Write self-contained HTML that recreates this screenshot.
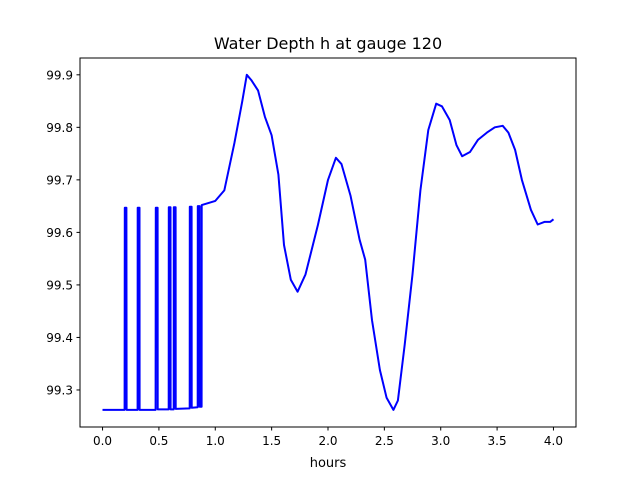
<!DOCTYPE html>
<html><head><meta charset="utf-8"><style>
body{margin:0;background:#fff}
svg text{font-family:"DejaVu Sans","Liberation Sans",sans-serif;fill:#000}
</style></head><body>
<svg id="chart" width="640" height="480" viewBox="0 0 640 480">
<rect width="640" height="480" fill="#fff"/>
<text x="328" y="49" font-size="16" text-anchor="middle">Water Depth h at gauge 120</text>
<g id="xticks"></g>
<g id="yticks"></g>
<polyline id="series" fill="none" stroke="#0000ff" stroke-width="2" stroke-linejoin="round"/>
<rect x="80" y="58" width="496" height="369" fill="none" stroke="#000" stroke-width="1"/>
<text x="328" y="467" font-size="13" text-anchor="middle">hours</text>
</svg>
<script>
const xTicks=[0,0.5,1,1.5,2,2.5,3,3.5,4];
const xTickLabels=["0.0","0.5","1.0","1.5","2.0","2.5","3.0","3.5","4.0"];
const yTicks=[99.3,99.4,99.5,99.6,99.7,99.8,99.9];
const yTickLabels=["99.3","99.4","99.5","99.6","99.7","99.8","99.9"];
const hours=[0,0.196,0.197,0.212,0.213,0.311,0.312,0.328,0.329,0.471,0.472,0.488,0.489,0.587,0.588,0.603,0.604,0.631,0.632,0.648,0.649,0.773,0.774,0.790,0.791,0.844,0.845,0.861,0.862,0.879,0.88,
1.0,1.08,1.17,1.24,1.28,1.32,1.38,1.44,1.5,1.56,1.61,1.67,1.73,1.8,1.91,2.0,2.07,2.12,2.2,2.28,2.33,2.39,2.46,2.52,2.58,2.62,2.68,2.75,2.82,2.89,2.96,3.01,3.08,3.14,3.19,3.26,3.33,3.41,3.48,3.55,3.6,3.66,3.72,3.8,3.86,3.92,3.97,4.0];
const depth=[99.262,99.262,99.647,99.647,99.262,99.262,99.647,99.647,99.262,99.262,99.647,99.647,99.263,99.263,99.648,99.648,99.263,99.263,99.648,99.648,99.264,99.265,99.649,99.649,99.266,99.267,99.650,99.650,99.268,99.268,99.652,
99.66,99.68,99.77,99.85,99.9,99.89,99.87,99.82,99.785,99.71,99.576,99.51,99.487,99.52,99.614,99.7,99.742,99.73,99.67,99.586,99.548,99.433,99.338,99.285,99.262,99.28,99.386,99.52,99.68,99.795,99.845,99.84,99.814,99.766,99.745,99.753,99.776,99.79,99.8,99.803,99.79,99.757,99.7,99.643,99.615,99.62,99.62,99.625];
const X0=-0.2,X1=4.2,Y0=99.2295,Y1=99.932;
const xs=v=>80+(v-X0)/(X1-X0)*496;
const ys=v=>427-(v-Y0)/(Y1-Y0)*369;
const NS="http://www.w3.org/2000/svg";
const gx=document.getElementById('xticks'),gy=document.getElementById('yticks');
xTicks.forEach((t,i)=>{
 const l=document.createElementNS(NS,'line');
 l.setAttribute('x1',xs(t));l.setAttribute('x2',xs(t));l.setAttribute('y1',427);l.setAttribute('y2',430.5);l.setAttribute('stroke','#000');
 
 
 gx.appendChild(l);
 const tx=document.createElementNS(NS,'text');
 tx.setAttribute('x',xs(t));tx.setAttribute('y',445);tx.setAttribute('font-size','12');tx.setAttribute('text-anchor','middle');
 tx.textContent=xTickLabels[i];
 
 
 gx.appendChild(tx);
});
yTicks.forEach((t,i)=>{
 const l=document.createElementNS(NS,'line');
 l.setAttribute('x1',76.5);l.setAttribute('x2',80);l.setAttribute('y1',ys(t));l.setAttribute('y2',ys(t));l.setAttribute('stroke','#000');
 
 
 gy.appendChild(l);
 const tx=document.createElementNS(NS,'text');
 tx.setAttribute('x',73);tx.setAttribute('y',ys(t)+4.5);tx.setAttribute('font-size','12');tx.setAttribute('text-anchor','end');
 tx.textContent=yTickLabels[i];
 
 
 gy.appendChild(tx);
});
document.getElementById('series').setAttribute('points',hours.map((h,i)=>xs(h).toFixed(1)+','+ys(depth[i]).toFixed(1)).join(' '));
</script>
</body></html>
